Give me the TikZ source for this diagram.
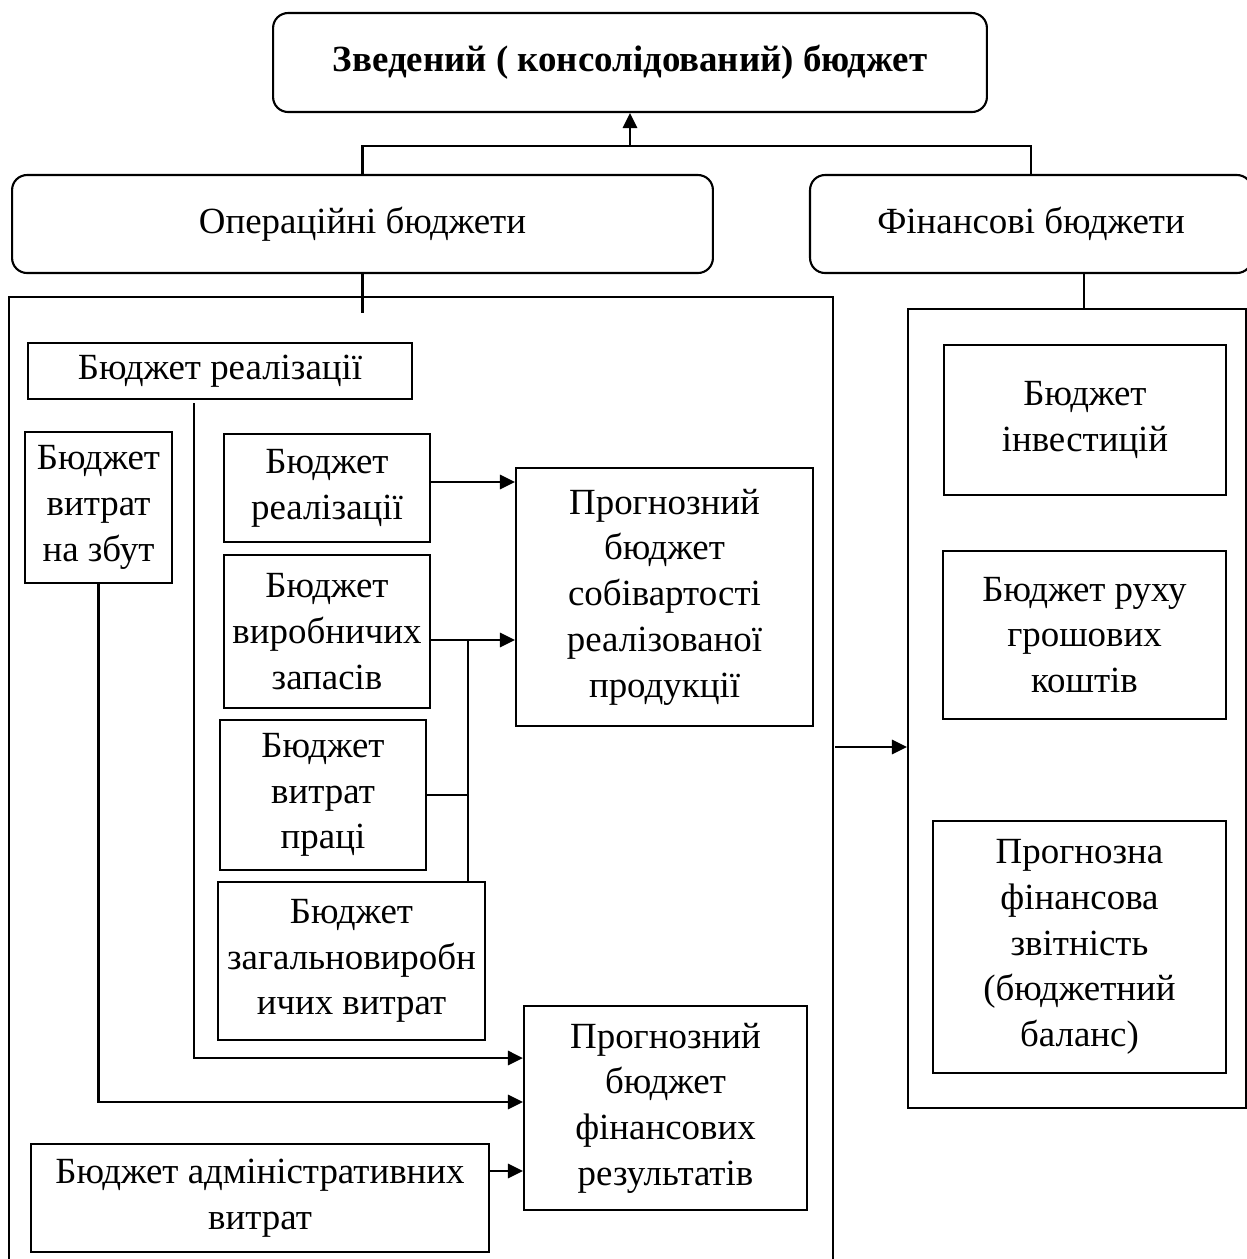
\documentclass[tikz,border=0pt]{standalone}
\usepackage{fontspec}
\setmainfont{Liberation Serif}
\usepackage{tikz}
\usetikzlibrary{arrows.meta,positioning,calc}

\tikzset{
  box/.style={draw,line width=1.2pt,align=center,inner sep=0pt,font=\fontsize{21}{26}\selectfont},
  rbox/.style={box,rounded corners=0.3cm},
  panel/.style={draw,line width=1.2pt,inner sep=0pt},
  link/.style={line width=1.2pt},
  arr/.style={line width=1.6pt,-{Triangle[length=0.3cm,width=0.28cm]}}
}

\begin{document}
\begin{tikzpicture}[x=0.02cm,y=-0.02cm]
  \useasboundingbox (0,0) rectangle (1247,1259);

  % Top level and the two groups
  \node[rbox,minimum width=14.28cm,minimum height=1.98cm,font=\fontsize{21}{26}\selectfont\bfseries] (cons) at (630,62.5) {Зведений ( консолідований) бюджет};
  \node[rbox,minimum width=14.02cm,minimum height=1.96cm] (oper) at (362.5,224) {Операційні бюджети};
  \node[rbox,minimum width=8.84cm,minimum height=1.96cm] (finb) at (1031,224) {Фінансові бюджети};

  % Frames round each group
  \node[panel,minimum width=16.48cm,minimum height=19.66cm] (opframe) at (421,788.5) {};
  \node[panel,minimum width=6.76cm,minimum height=15.98cm] (finframe) at (1077,708.5) {};

  % Operating budgets
  \node[box,minimum width=7.68cm,minimum height=1.12cm] (sales) at (220,371) {Бюджет реалізації};
  \node[box,minimum width=2.94cm,minimum height=3.02cm] (selling) at (98.5,507.5) {Бюджет\\витрат\\на збут};
  \node[box,minimum width=4.12cm,minimum height=2.16cm] (sales2) at (327,488) {Бюджет\\реалізації};
  \node[box,minimum width=4.12cm,minimum height=3.06cm] (stock) at (327,631.5) {Бюджет\\виробничих\\запасів};
  \node[box,minimum width=4.12cm,minimum height=3.0cm] (labour) at (323,795) {Бюджет\\витрат\\праці};
  \node[box,minimum width=5.34cm,minimum height=3.16cm] (overhead) at (351.5,961) {Бюджет\\загальновиробн\\ичих витрат};
  \node[box,minimum width=5.94cm,minimum height=5.16cm] (cogs) at (664.5,597) {Прогнозний\\бюджет\\собівартості\\реалізованої\\продукції};
  \node[box,minimum width=5.66cm,minimum height=4.08cm] (result) at (665.5,1108) {Прогнозний\\бюджет\\фінансових\\результатів};
  \node[box,minimum width=9.16cm,minimum height=2.16cm] (admin) at (260,1198) {Бюджет адміністративних\\витрат};

  % Financial budgets
  \node[box,minimum width=5.64cm,minimum height=3.0cm] (invest) at (1085,420) {Бюджет\\інвестицій};
  \node[box,minimum width=5.66cm,minimum height=3.36cm] (cash) at (1084.5,635) {Бюджет руху\\грошових\\коштів};
  \node[box,minimum width=5.86cm,minimum height=5.04cm] (balance) at (1079.5,947) {Прогнозна\\фінансова\\звітність\\(бюджетний\\баланс)};

  % Helper points
  \coordinate (bus) at (630,146);
  \coordinate (salesout) at (194,403);
  \coordinate (join) at (468,640);
  \coordinate (opout) at (835,747);

  % Links to the top
  \draw[link] (oper.north) |- (bus) -| (finb.north);
  \draw[arr] (bus) -- (cons.south);
  \draw[link] (oper.south) -- ++(0,39);
  \draw[link] (finb.south -| 1084,0) -- (finframe.north -| 1084,0);

  % Inputs of cost of goods sold
  \draw[arr] ([yshift=0.12cm]sales2.east) -- ([yshift=0.12cm]sales2.east -| cogs.west);
  \draw[arr] (stock.east |- join) -- (cogs.west |- join);
  \draw[link] (labour.east) -- (labour.east -| join);
  \draw[link] (join) -- (join |- overhead.north);

  % Inputs of financial results
  \draw[arr] (salesout) |- ([yshift=1cm]result.west);
  \draw[arr] (selling.south) |- ([yshift=0.12cm]result.west);
  \draw[arr] ([yshift=0.54cm]admin.east) -- ([yshift=0.54cm]admin.east -| result.west);

  % Operating to financial
  \draw[arr] (opout) -- (opout -| finframe.west);
\end{tikzpicture}
\end{document}
